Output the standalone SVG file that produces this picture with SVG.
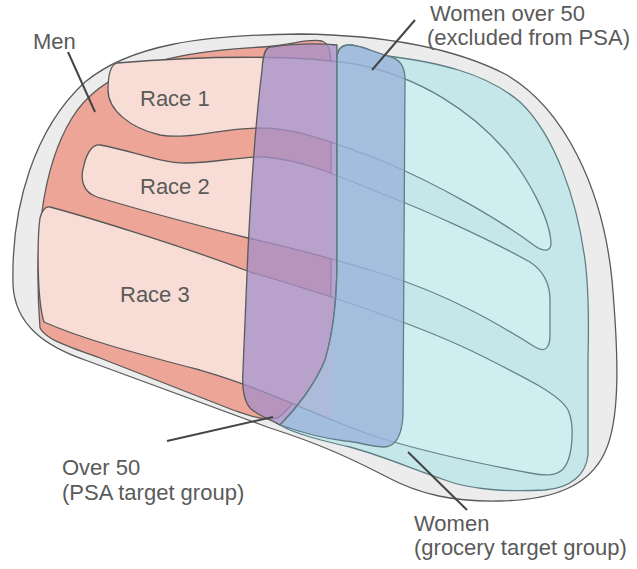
<svg xmlns="http://www.w3.org/2000/svg" width="637" height="569" viewBox="0 0 637 569">
<style>
.lbl{font-family:"Liberation Sans",Arial,sans-serif;font-size:22px;fill:#5a5a5a}
.edge{stroke:#5a5a5a;stroke-width:1.3;stroke-linejoin:round}
.tedge{stroke:#5f7f85;stroke-width:1.3;stroke-linejoin:round}
.lobe{fill:url(#lobeFill);stroke:url(#lobeStroke);stroke-width:1.3;stroke-linejoin:round}
.lead{stroke:#454545;stroke-width:2;fill:none}
</style>
<defs>
<linearGradient id="lobeFill" gradientUnits="userSpaceOnUse" x1="0" y1="0" x2="637" y2="0">
<stop offset="0.5235" stop-color="#f7ddd5"/>
<stop offset="0.5235" stop-color="#d0eef0"/>
</linearGradient>
<linearGradient id="lobeStroke" gradientUnits="userSpaceOnUse" x1="0" y1="0" x2="637" y2="0">
<stop offset="0.5235" stop-color="#585858"/>
<stop offset="0.5235" stop-color="#638388"/>
</linearGradient>
</defs>
<g id="population">
<path class="edge" fill="#ececec" d="M 13,285 C 11,205 35,128 85,82 C 130,45 200,35 300,34 C 380,35 450,46 505,74 C 565,108 603,190 612,280 C 619,360 620,420 605,452 C 590,485 555,500 500,501 C 455,502 420,495 385,476 C 350,458 320,444 270,428 L 85,360 C 45,346 15,325 13,285 Z"/>
</g>
<g id="men">
<path class="edge" fill="#eca597" d="M 40,328 C 34,250 40,170 72,118 C 100,72 160,52 262,47 C 292,45 308,38 322,41 C 332,44 331,60 331,80 L 331,290 C 328,350 306,395 278,418 C 262,421 248,415 233,410 L 100,358 C 70,347 46,340 40,328 Z"/>
<text class="lbl" x="33" y="49">Men</text>
</g>
<g id="women">
<path class="tedge" fill="#c6e7ea" d="M 337,58 C 337,49 341,45 349,45 C 362,45 372,52 388,56 C 435,62 485,72 520,102 C 555,135 577,200 585,260 C 589,290 589,320 588,360 L 588,455 C 586,475 570,488 545,490 C 510,492 470,490 445,480 C 410,468 380,455 350,447 C 320,440 295,434 280,425 C 295,410 315,385 325,360 C 334,330 337,300 337,260 Z"/>
<text class="lbl" x="414" y="531">Women</text>
<text class="lbl" x="414" y="555">(grocery target group)</text>
</g>
<g id="race1">
<path class="lobe" d="M 117,63 C 200,56 300,54 360,65 C 420,78 470,110 505,150 C 530,180 550,220 551,243 C 551,252 544,252 535,246 C 500,220 440,185 380,160 C 340,145 300,128 260,128 C 220,128 190,140 160,135 C 130,128 108,110 108,90 C 108,75 110,65 117,63 Z"/>
<text class="lbl" x="140" y="106">Race 1</text>
</g>
<g id="race2">
<path class="lobe" d="M 100,145 C 130,150 160,163 185,163 C 215,163 240,156 265,157 C 300,160 330,172 380,193 C 430,212 490,240 530,262 C 545,272 550,285 550,300 L 550,335 C 550,348 545,353 535,347 C 500,325 450,295 380,273 C 330,258 290,247 248,238 C 200,226 140,210 97,197 C 82,192 80,178 84,165 C 87,152 93,144 100,145 Z"/>
<text class="lbl" x="140" y="194">Race 2</text>
</g>
<g id="race3">
<path class="lobe" d="M 50,207 C 80,215 180,245 250,272 C 320,292 420,325 480,355 C 530,380 560,395 568,410 C 575,425 573,460 562,470 C 555,476 545,476 530,473 C 470,462 420,450 380,438 C 320,418 270,390 200,370 C 130,352 80,338 44,322 C 37,300 37,240 40,218 C 42,210 46,206 50,207 Z"/>
<text class="lbl" x="120" y="302">Race 3</text>
</g>
<g id="over50">
<path class="edge" fill="#a68fc6" fill-opacity="0.78" d="M 270,47 C 292,44 316,43 337,45 L 337,260 C 337,300 334,330 325,360 C 315,385 295,410 280,425 C 272,420 258,416 250,408 C 243,400 242,385 243,370 L 248,250 C 252,170 257,110 262,70 C 263,55 265,48 270,47 Z"/>
<text class="lbl" x="62" y="475">Over 50</text>
<text class="lbl" x="62" y="500">(PSA target group)</text>
</g>
<g id="women-over50">
<path class="tedge" fill="#99b3da" fill-opacity="0.8" d="M 337,60 C 337,50 341,45 349,45 C 362,45 372,52 388,56 C 400,59 405,66 405,80 L 403,415 C 402,435 396,446 385,447 C 370,447 360,442 345,441 C 320,438 300,432 280,425 C 295,410 315,385 325,360 C 334,330 337,300 337,260 Z"/>
<text class="lbl" x="430" y="21">Women over 50</text>
<text class="lbl" x="427" y="45">(excluded from PSA)</text>
</g>
<g id="connectors">
<line class="lead" x1="415" y1="20" x2="372" y2="70"/>
<line class="lead" x1="68" y1="52" x2="95" y2="112"/>
<line class="lead" x1="167" y1="441" x2="273" y2="417"/>
<line class="lead" x1="408" y1="452" x2="467" y2="510"/>
</g>
</svg>
